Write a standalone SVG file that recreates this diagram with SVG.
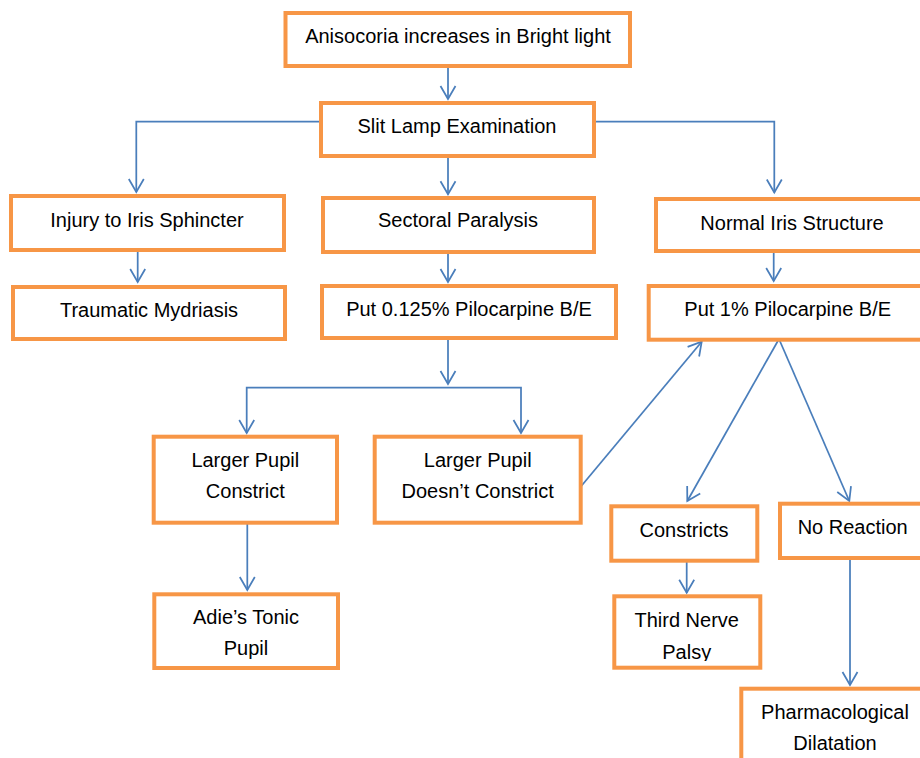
<svg xmlns="http://www.w3.org/2000/svg" width="920" height="758" viewBox="0 0 920 758">
<style>
.box{fill:#fff;stroke:#F79646;stroke-width:4}
.t{font-family:"Liberation Sans",Arial,sans-serif;font-size:20px;fill:#000;text-anchor:middle}
.c{fill:none;stroke:#4A7EBB;stroke-width:1.75;marker-end:url(#ah)}
</style>
<defs>
<marker id="ah" markerUnits="userSpaceOnUse" viewBox="-16 -10 20 20" refX="0" refY="0" markerWidth="20" markerHeight="20" orient="auto">
<path d="M-13,-7.5 L0,0 L-13,7.5" fill="none" stroke="#4A7EBB" stroke-width="1.75"/>
</marker>
<clipPath id="clipThird"><rect x="614" y="596" width="147" height="65"/></clipPath>
</defs>
<rect width="920" height="758" fill="#fff"/>
<g id="connectors">
<path class="c" d="M448,68 V99"/>
<path class="c" d="M320,121.7 H136.3 V192"/>
<path class="c" d="M595,121.7 H774.3 V192.5"/>
<path class="c" d="M448,157 V194.3"/>
<path class="c" d="M137.7,251 V282"/>
<path class="c" d="M448,253 V282"/>
<path class="c" d="M773.7,252 V281"/>
<path class="c" d="M448,340 V384"/>
<path class="c" d="M447,387.7 H246.7 V433"/>
<path class="c" d="M447,387.7 H521 V433"/>
<path class="c" d="M247.3,524 V590"/>
<path class="c" d="M580.7,486.7 L701.7,341.7"/>
<path class="c" d="M779,339 L687.3,501"/>
<path class="c" d="M779,339 L849.3,501"/>
<path class="c" d="M686.7,562 V592.7"/>
<path class="c" d="M850,559 V685"/>
</g>
<g id="anisocoria"><rect class="box" x="285.5" y="13" width="344.5" height="53"/><text class="t" x="458" y="43">Anisocoria increases in Bright light</text></g>
<g id="slitlamp"><rect class="box" x="321" y="103" width="273" height="53"/><text class="t" x="457" y="133">Slit Lamp Examination</text></g>
<g id="injury"><rect class="box" x="11" y="196" width="273" height="54"/><text class="t" x="147" y="227">Injury to Iris Sphincter</text></g>
<g id="sectoral"><rect class="box" x="323" y="198" width="271" height="54"/><text class="t" x="458" y="227">Sectoral Paralysis</text></g>
<g id="normal"><rect class="box" x="656" y="199" width="290" height="52"/><text class="t" x="792" y="230">Normal Iris Structure</text></g>
<g id="traumatic"><rect class="box" x="13" y="287" width="272" height="52"/><text class="t" x="149" y="317">Traumatic Mydriasis</text></g>
<g id="pilo0125"><rect class="box" x="322" y="286" width="294" height="52"/><text class="t" x="469" y="316">Put 0.125% Pilocarpine B/E</text></g>
<g id="pilo1"><rect class="box" x="648.7" y="286" width="300" height="53.7"/><text class="t" x="787.7" y="316">Put 1% Pilocarpine B/E</text></g>
<g id="lpc"><rect class="box" x="153.7" y="436.7" width="183.3" height="86"/><text class="t" x="245.3" y="467">Larger Pupil</text><text class="t" x="245.3" y="497.5">Constrict</text></g>
<g id="lpdc"><rect class="box" x="374.7" y="436.7" width="206" height="86"/><text class="t" x="477.7" y="467">Larger Pupil</text><text class="t" x="477.7" y="497.5">Doesn’t Constrict</text></g>
<g id="adie"><rect class="box" x="154.3" y="594.3" width="183.7" height="73.7"/><text class="t" x="246" y="623.5">Adie’s Tonic</text><text class="t" x="246" y="655">Pupil</text></g>
<g id="constricts"><rect class="box" x="611.3" y="506.3" width="146" height="54.4"/><text class="t" x="684" y="537">Constricts</text></g>
<g id="noreaction"><rect class="box" x="780" y="503.7" width="160" height="54.3"/><text class="t" x="852.7" y="533.5">No Reaction</text></g>
<g id="thirdnerve"><rect class="box" x="614.3" y="596.3" width="146" height="71.4"/><g clip-path="url(#clipThird)"><text class="t" x="686.7" y="627">Third Nerve</text><text class="t" x="686.7" y="658.5">Palsy</text></g></g>
<g id="pharmacological"><rect class="box" x="741.3" y="688.7" width="200" height="80"/><text class="t" x="835" y="718.5">Pharmacological</text><text class="t" x="835" y="750">Dilatation</text></g>
</svg>
